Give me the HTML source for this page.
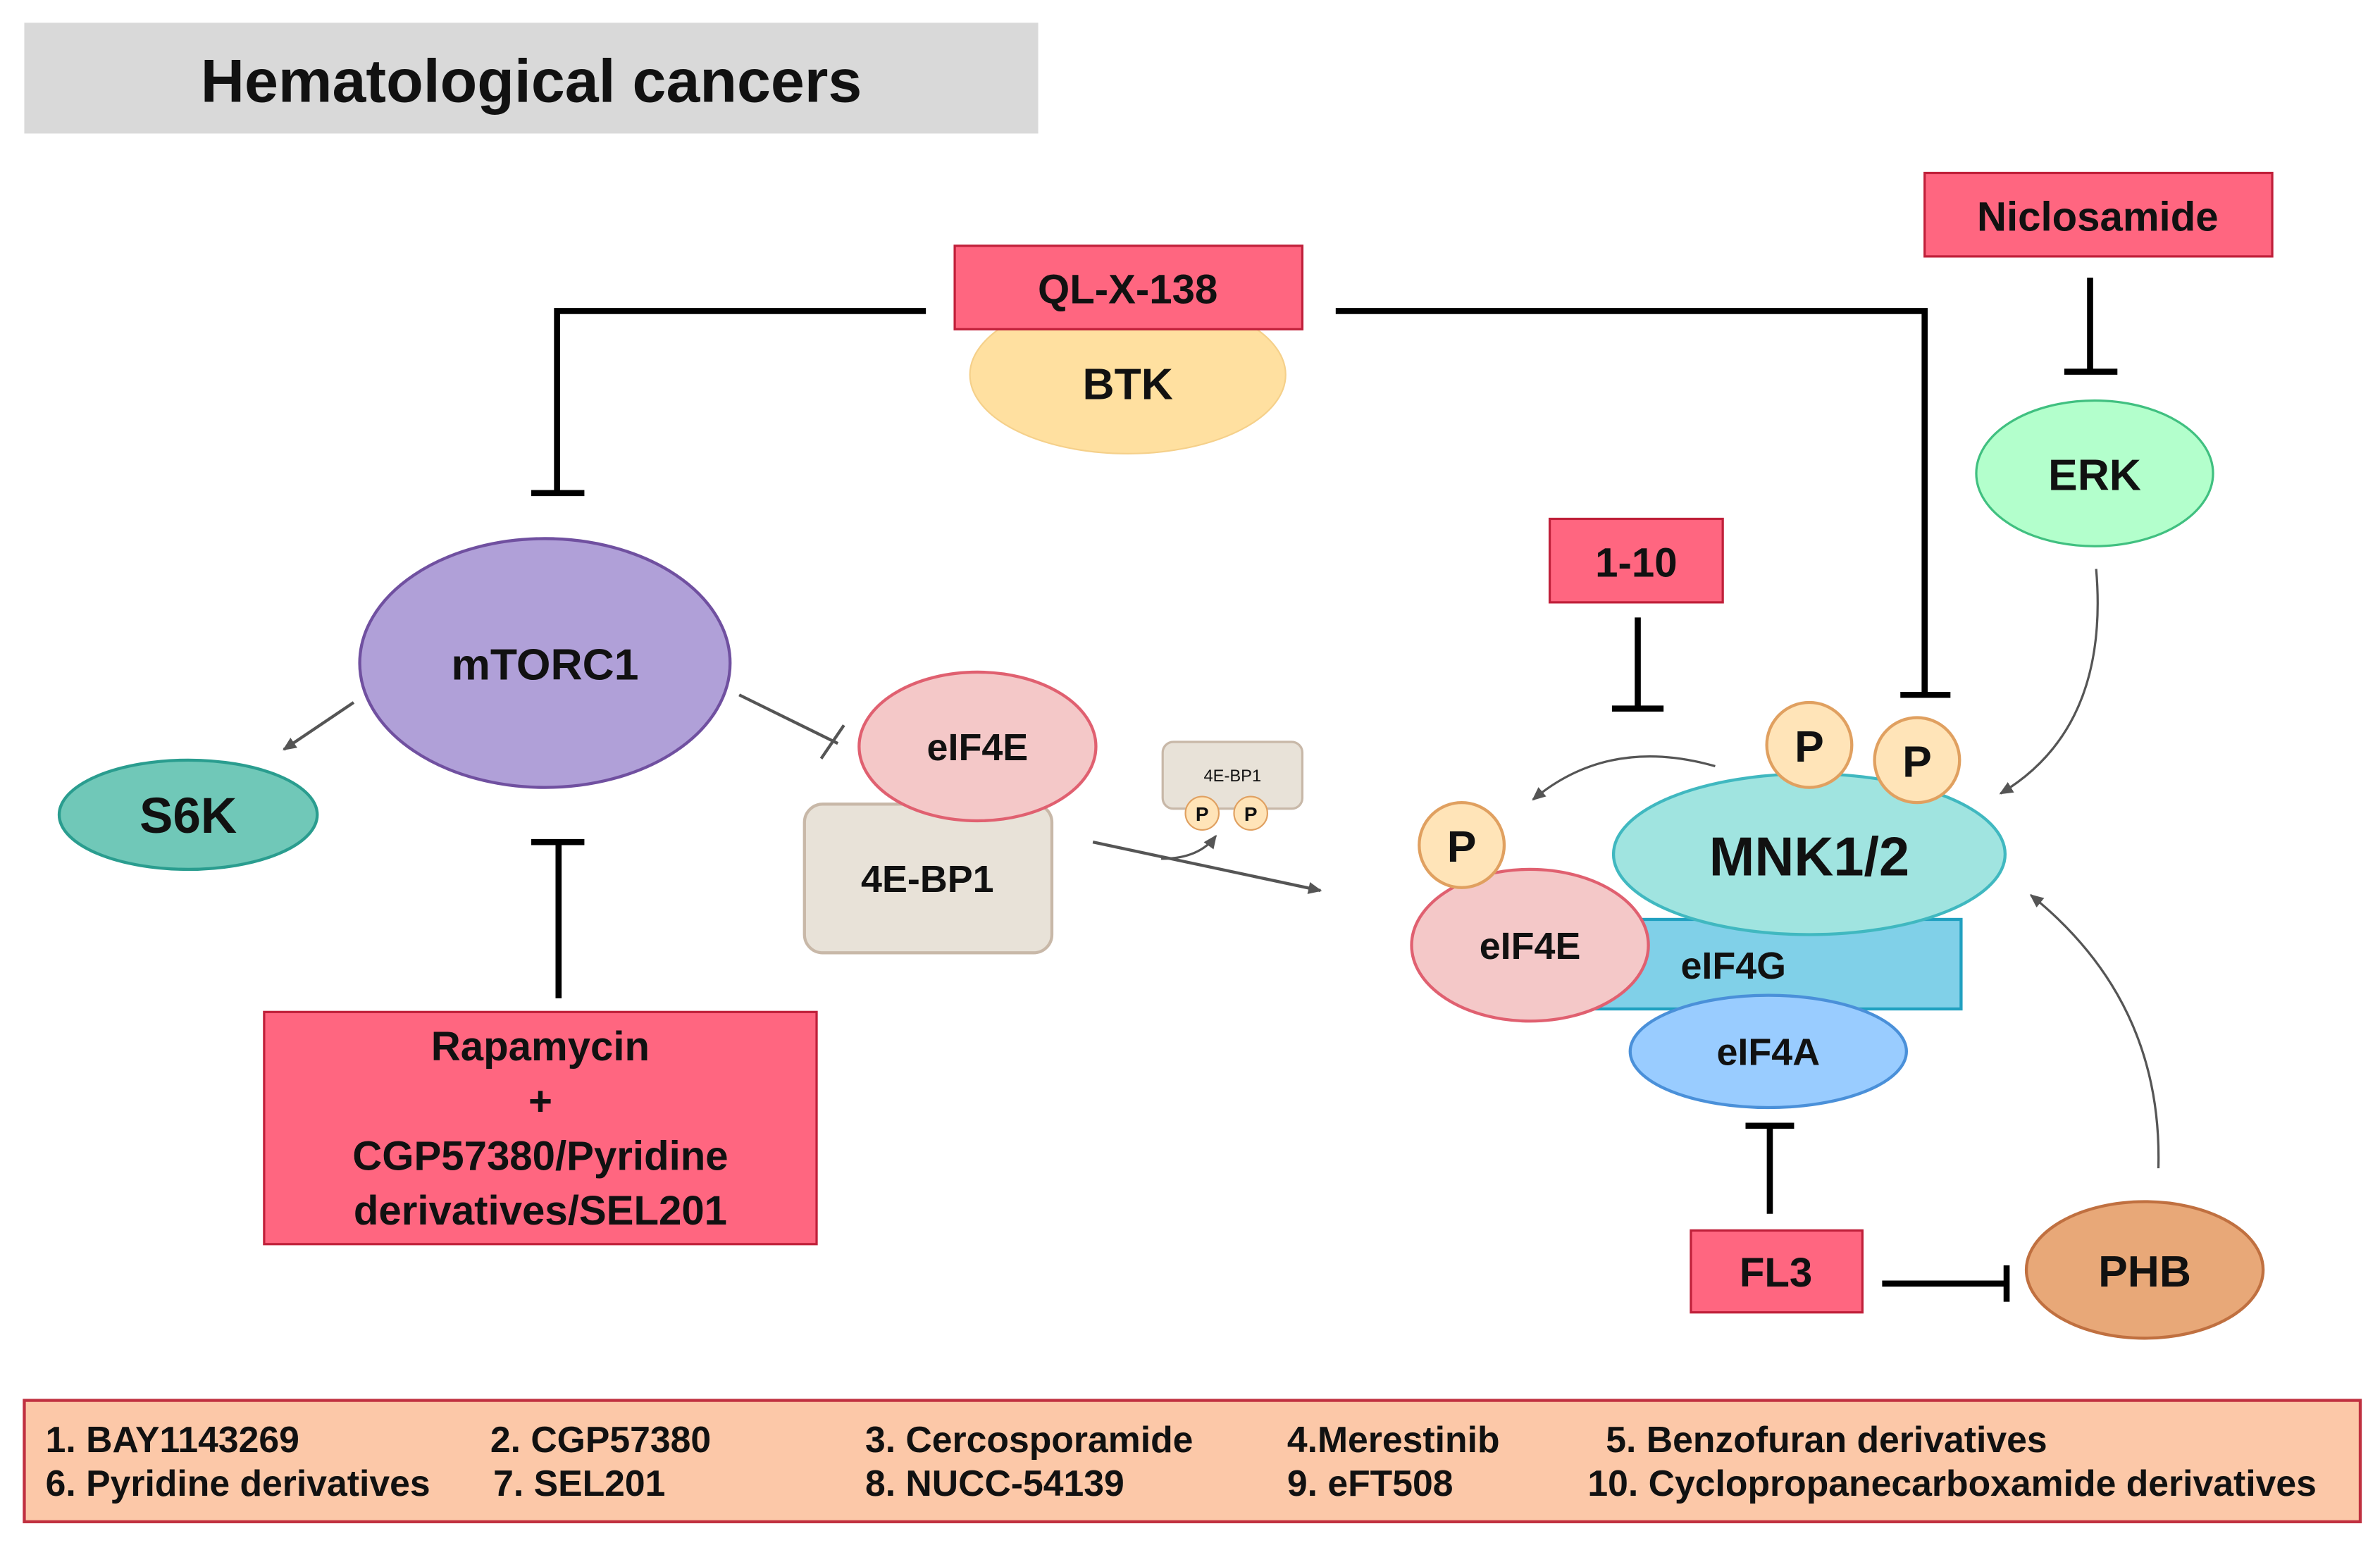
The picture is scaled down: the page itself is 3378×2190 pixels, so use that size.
<!DOCTYPE html>
<html><head><meta charset="utf-8"><style>
html,body{margin:0;padding:0;background:#fff;}
svg{display:block;}
text{font-family:"Liberation Sans",Arial,sans-serif;font-weight:bold;fill:#111;}
</style></head><body>
<svg width="3378" height="2190" viewBox="0 0 1568 1017" preserveAspectRatio="none" xmlns="http://www.w3.org/2000/svg">
<defs>
<marker id="ah" markerWidth="10" markerHeight="10" refX="8" refY="5" orient="auto" markerUnits="userSpaceOnUse"><path d="M0,1 L9,5 L0,9 Z" fill="#555"/></marker>
</defs>
<rect x="16" y="15" width="668" height="73" fill="#d9d9d9"/>
<text x="350" y="67" font-size="40" text-anchor="middle">Hematological cancers</text>

<ellipse cx="743" cy="247" rx="104" ry="52" fill="#ffe0a0" stroke="#f5d08a"/>
<text x="743" y="263" font-size="29" text-anchor="middle">BTK</text>
<rect x="629" y="162" width="229" height="55" fill="#ff6680" stroke="#c0203a" stroke-width="1.5"/>
<text x="743" y="200" font-size="27" text-anchor="middle">QL-X-138</text>

<g stroke="#000" stroke-width="4" fill="none">
<polyline points="610,205 367,205 367,325"/><line x1="350" y1="325" x2="385" y2="325"/>
<polyline points="880,205 1268,205 1268,458"/><line x1="1252" y1="458" x2="1285" y2="458"/>
<line x1="1377" y1="183" x2="1377" y2="245"/><line x1="1360" y1="245" x2="1395" y2="245"/>
<line x1="1079" y1="407" x2="1079" y2="467"/><line x1="1062" y1="467" x2="1096" y2="467"/>
<line x1="368" y1="555" x2="368" y2="658"/><line x1="350" y1="555" x2="385" y2="555"/>
<line x1="1166" y1="800" x2="1166" y2="742"/><line x1="1150" y1="742" x2="1182" y2="742"/>
<line x1="1240" y1="846" x2="1322" y2="846"/><line x1="1322" y1="834" x2="1322" y2="858"/>
</g>

<rect x="1268" y="114" width="229" height="55" fill="#ff6680" stroke="#c0203a" stroke-width="1.5"/>
<text x="1382" y="152" font-size="27" text-anchor="middle">Niclosamide</text>
<ellipse cx="1380" cy="312" rx="78" ry="48" fill="#b3ffcc" stroke="#40c080" stroke-width="1.5"/>
<text x="1380" y="323" font-size="29" text-anchor="middle">ERK</text>

<ellipse cx="359" cy="437" rx="122" ry="82" fill="#b0a0d8" stroke="#7050a0" stroke-width="2"/>
<text x="359" y="448" font-size="29" text-anchor="middle">mTORC1</text>
<ellipse cx="124" cy="537" rx="85" ry="36" fill="#70c8b8" stroke="#2a9d8f" stroke-width="2"/>
<text x="124" y="549" font-size="33" text-anchor="middle">S6K</text>
<line x1="233" y1="463" x2="187" y2="494" stroke="#555" stroke-width="2" marker-end="url(#ah)"/>
<line x1="487" y1="458" x2="552" y2="490" stroke="#555" stroke-width="2"/>
<line x1="541" y1="500" x2="556" y2="478" stroke="#555" stroke-width="2"/>

<rect x="530" y="530" width="163" height="98" rx="12" fill="#e8e2d8" stroke="#c8b8a8" stroke-width="2"/>
<text x="611" y="588" font-size="25" text-anchor="middle">4E-BP1</text>
<ellipse cx="644" cy="492" rx="78" ry="49" fill="#f4c8c8" stroke="#e06070" stroke-width="2"/>
<text x="644" y="501" font-size="25" text-anchor="middle">eIF4E</text>

<rect x="766" y="489" width="92" height="44" rx="7" fill="#e8e2d8" stroke="#c8b8a8" stroke-width="1.5"/>
<text x="812" y="515" font-size="11" text-anchor="middle" style="font-weight:normal">4E-BP1</text>
<circle cx="792" cy="536" r="11" fill="#ffe4b8" stroke="#e0a060"/>
<circle cx="824" cy="536" r="11" fill="#ffe4b8" stroke="#e0a060"/>
<text x="792" y="541" font-size="13" text-anchor="middle">P</text>
<text x="824" y="541" font-size="13" text-anchor="middle">P</text>
<line x1="720" y1="555" x2="870" y2="587" stroke="#555" stroke-width="2" marker-end="url(#ah)"/>
<path d="M765,566 Q790,566 801,551" stroke="#555" stroke-width="1.5" fill="none" marker-end="url(#ah)"/>

<rect x="1021" y="342" width="114" height="55" fill="#ff6680" stroke="#c0203a" stroke-width="1.5"/>
<text x="1078" y="380" font-size="27" text-anchor="middle">1-10</text>

<rect x="174" y="667" width="364" height="153" fill="#ff6680" stroke="#c0203a" stroke-width="1.5"/>
<text x="356" y="699" font-size="27" text-anchor="middle">Rapamycin</text>
<text x="356" y="735" font-size="27" text-anchor="middle">+</text>
<text x="356" y="771" font-size="27" text-anchor="middle">CGP57380/Pyridine</text>
<text x="356" y="807" font-size="27" text-anchor="middle">derivatives/SEL201</text>

<rect x="1040" y="606" width="252" height="59" fill="#80d0e8" stroke="#20a0c0" stroke-width="2"/>
<text x="1142" y="645" font-size="25" text-anchor="middle">eIF4G</text>
<ellipse cx="1192" cy="563" rx="129" ry="53" fill="#a0e4e0" stroke="#40b8c0" stroke-width="2"/>
<text x="1192" y="577" font-size="36" text-anchor="middle">MNK1/2</text>
<ellipse cx="1165" cy="693" rx="91" ry="37" fill="#99ccff" stroke="#4a90d9" stroke-width="2"/>
<text x="1165" y="702" font-size="25" text-anchor="middle">eIF4A</text>
<ellipse cx="1008" cy="623" rx="78" ry="50" fill="#f4c8c8" stroke="#e06070" stroke-width="2"/>
<text x="1008" y="632" font-size="25" text-anchor="middle">eIF4E</text>
<g fill="#ffe4b8" stroke="#e0a060" stroke-width="2">
<circle cx="963" cy="557" r="28"/><circle cx="1192" cy="491" r="28"/><circle cx="1263" cy="501" r="28"/>
</g>
<text x="963" y="568" font-size="29" text-anchor="middle">P</text>
<text x="1192" y="502" font-size="29" text-anchor="middle">P</text>
<text x="1263" y="512" font-size="29" text-anchor="middle">P</text>
<path d="M1130,505 Q1060,485 1010,527" stroke="#555" stroke-width="1.5" fill="none" marker-end="url(#ah)"/>
<path d="M1381,375 Q1390,480 1318,523" stroke="#555" stroke-width="1.5" fill="none" marker-end="url(#ah)"/>
<path d="M1422,770 Q1425,660 1338,590" stroke="#555" stroke-width="1.5" fill="none" marker-end="url(#ah)"/>

<rect x="1114" y="811" width="113" height="54" fill="#ff6680" stroke="#c0203a" stroke-width="1.5"/>
<text x="1170" y="848" font-size="27" text-anchor="middle">FL3</text>
<ellipse cx="1413" cy="837" rx="78" ry="45" fill="#e8a878" stroke="#c07040" stroke-width="2"/>
<text x="1413" y="848" font-size="29" text-anchor="middle">PHB</text>

<rect x="16" y="923" width="1539" height="80" fill="#fcc8a8" stroke="#c03040" stroke-width="2"/>
<g font-size="24">
<text x="30" y="957">1. BAY1143269</text>
<text x="323" y="957">2. CGP57380</text>
<text x="570" y="957">3. Cercosporamide</text>
<text x="848" y="957">4.Merestinib</text>
<text x="1058" y="957">5. Benzofuran derivatives</text>
<text x="30" y="986">6. Pyridine derivatives</text>
<text x="325" y="986">7. SEL201</text>
<text x="570" y="986">8. NUCC-54139</text>
<text x="848" y="986">9. eFT508</text>
<text x="1046" y="986">10. Cyclopropanecarboxamide derivatives</text>
</g>
</svg>
</body></html>
